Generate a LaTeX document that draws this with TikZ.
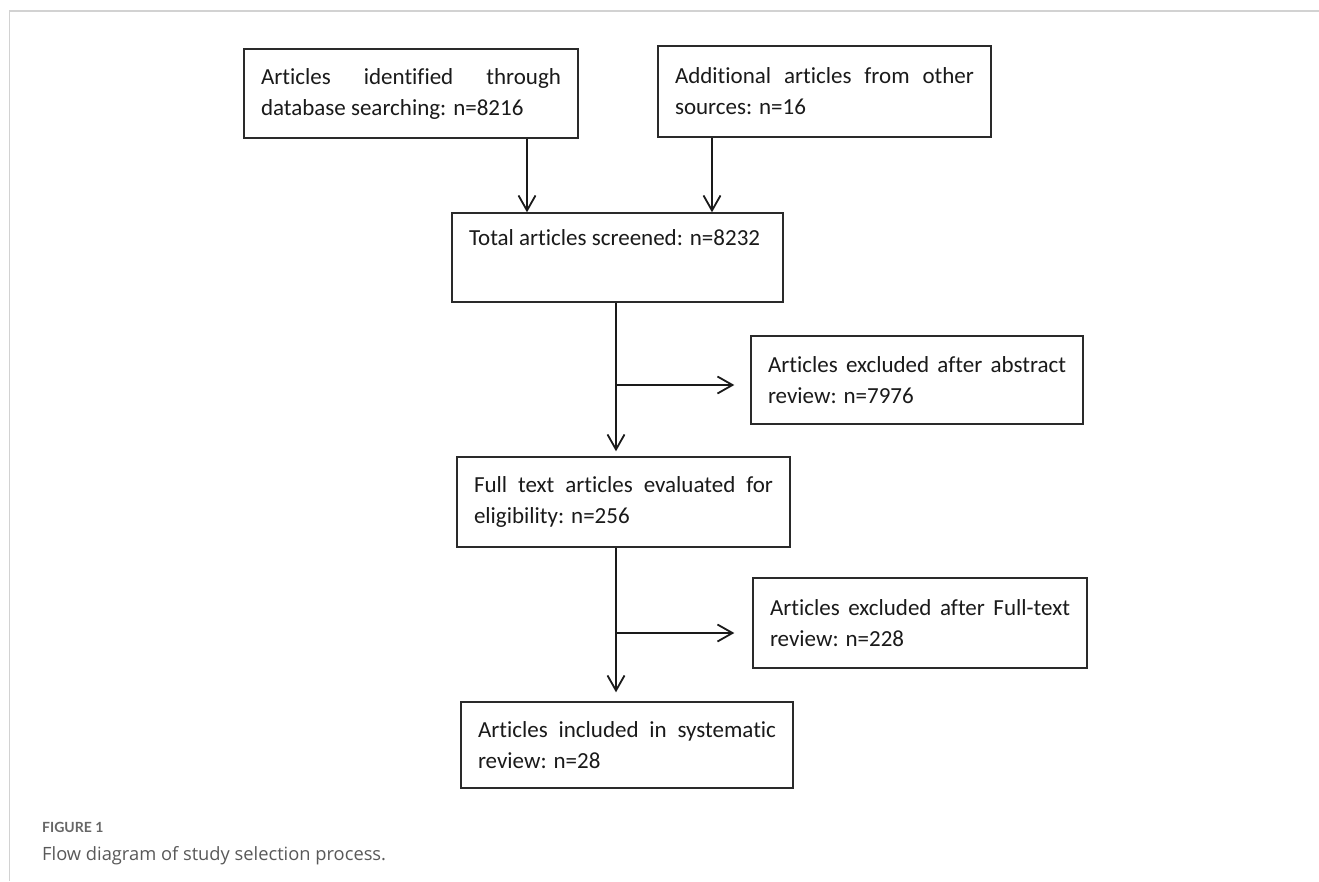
\documentclass[tikz,border=0pt]{standalone}
\usepackage{fontspec}
\setmainfont{Carlito}[Ligatures=NoCommon]
\newfontfamily\capfont{Lato}
\newfontfamily\captextfont{Open Sans}
\usetikzlibrary{arrows.meta}
\definecolor{framec}{HTML}{D2D2D2}
\definecolor{boxc}{HTML}{2A2A2A}
\definecolor{txtc}{HTML}{1A1A1A}
\definecolor{capgrey}{HTML}{666666}
\definecolor{captext}{HTML}{595959}
\hyphenpenalty=10000
\exhyphenpenalty=10000
\begin{document}
\begin{tikzpicture}[x=1pt,y=-1pt,
  box/.style={draw=boxc, line width=1.4pt, inner xsep=17pt, inner ysep=0pt,
    align=justify, text=txtc, font=\fontsize{23}{31}\selectfont},
  arr/.style={draw=txtc, line width=1.8pt, -{Straight Barb[length=15pt,width=17pt]}}]
\useasboundingbox (0,0) rectangle (1319,881);
\fill[white] (0,0) rectangle (1319,881);
\draw[framec, line width=1.5pt] (1319,11) -- (9.5,11) -- (9.5,881);

\node[box, text width=300pt, minimum height=89pt] (b1) at (411,93.5)
  {Articles identified through\linebreak database searching: n=8216};
\node[box, text width=299pt, minimum height=91pt] (b2) at (824.5,91.5)
  {Additional articles from other\linebreak sources: n=16};
\node[box, text width=297pt, minimum height=89pt] (b3) at (617.5,257.5)
  {Total articles screened: n=8232\newline\strut};
\node[box, text width=298pt, minimum height=88pt] (b4) at (917,380)
  {Articles excluded after abstract\linebreak review: n=7976};
\node[box, text width=299pt, minimum height=90pt] (b5) at (623.5,502)
  {Full text articles evaluated for\linebreak eligibility: n=256};
\node[box, text width=300pt, minimum height=90pt] (b6) at (920,623)
  {Articles excluded after Full-text\linebreak review: n=228};
\node[box, text width=298pt, minimum height=86pt] (b7) at (627,745)
  {Articles included in systematic\linebreak review: n=28};

\coordinate (x1) at (527,0);
\coordinate (x2) at (712,0);
\coordinate (tr) at (616,0);
\coordinate (j1) at (616,385);
\coordinate (j2) at (616,633);

\draw[arr] (b1.south -| x1) -- (b3.north -| x1);
\draw[arr] (b2.south -| x2) -- (b3.north -| x2);
\draw[arr, shorten >=5pt] (b3.south -| tr) -- (b5.north -| tr);
\draw[arr, shorten >=16pt] (j1) -- (j1 -| b4.west);
\draw[arr, shorten >=9pt] (b5.south -| tr) -- (b7.north -| tr);
\draw[arr, shorten >=18pt] (j2) -- (j2 -| b6.west);

\node[anchor=base west, inner sep=0pt, text=capgrey,
  font=\capfont\bfseries\fontsize{14}{16}\selectfont] (fig) at (42,832) {FIGURE 1};
\node[anchor=base west, inner sep=0pt, text=captext,
  font=\captextfont\fontsize{18.3}{22}\selectfont] (cap) at (42,860) {Flow diagram of study selection process.};
\end{tikzpicture}
\end{document}
